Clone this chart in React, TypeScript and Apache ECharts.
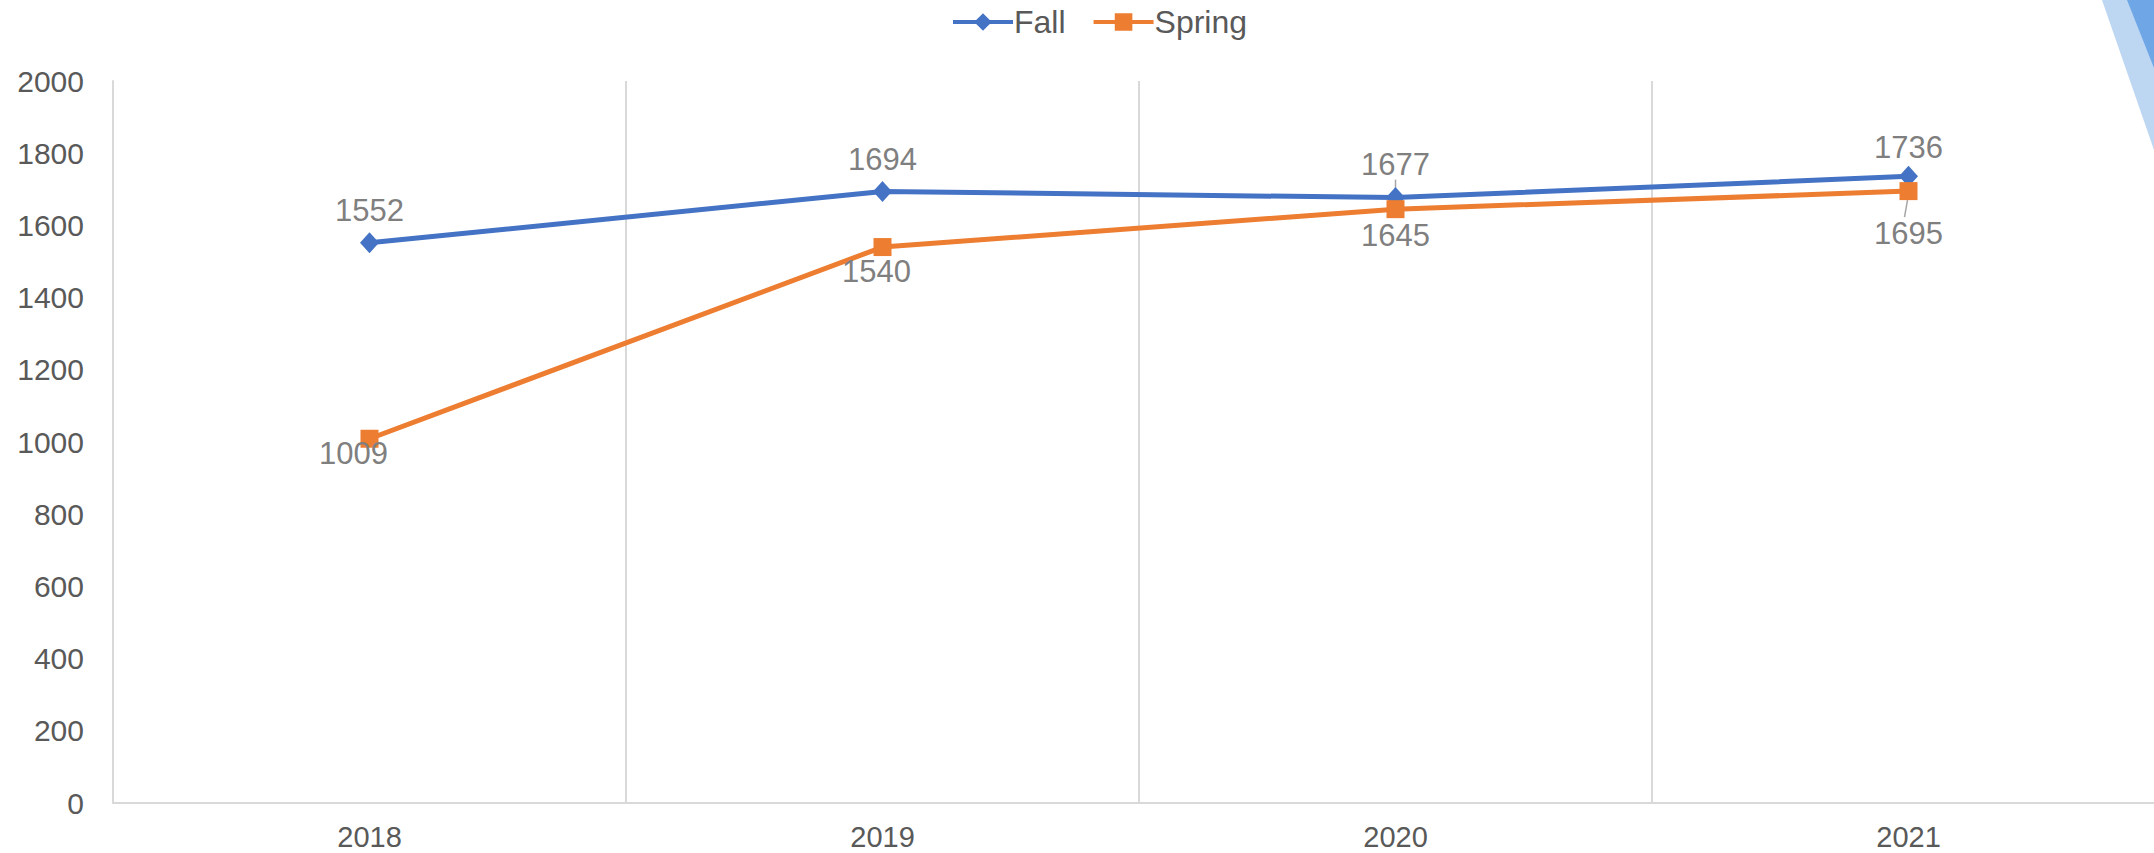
import React, { useEffect, useRef } from "react";
import * as echarts from "echarts";

const categories = ["2018", "2019", "2020", "2021"];
const fallValues = [1552, 1694, 1677, 1736];
const springValues = [1009, 1540, 1645, 1695];
const yTicks = { min: 0, max: 2000, interval: 200 };

// label placement (layout, not data)
const fallLabelLayout = [
  { dx: 0, dy: -6 },
  { dx: 0, dy: -6 },
  { dx: 0, dy: -7 },
  { dx: 0, dy: -3 },
];
const springLabelLayout = [
  { dx: -16, dy: -10 },
  { dx: -6, dy: 0 },
  { dx: 0, dy: 2 },
  { dx: 0, dy: 18 },
];

const FONT = "'Liberation Sans', Arial, Helvetica, sans-serif";

export default function App() {
  const ref = useRef<HTMLDivElement>(null);
  useEffect(() => {
    if (!ref.current) return;
    const chart = echarts.init(ref.current, undefined, { renderer: "svg" });
    const labelStyle = { color: "#7F7F7F", fontSize: 31, fontFamily: FONT };
    chart.setOption({
      animation: false,
      backgroundColor: "#FFFFFF",
      textStyle: { fontFamily: FONT },
      legend: {
        top: 1,
        left: 946,
        itemWidth: 60,
        itemHeight: 22,
        itemGap: 26,
        lineStyle: { width: 4 },
        textStyle: { fontSize: 32, color: "#595959", fontFamily: FONT, padding: [0, 0, 0, -4] },
        data: ["Fall", "Spring"],
      },
      grid: { left: 113, top: 81, bottom: 50, right: 0, containLabel: false },
      xAxis: {
        type: "category",
        data: categories,
        boundaryGap: true,
        axisLine: { show: true, lineStyle: { color: "#D9D9D9", width: 2 } },
        axisTick: { show: false },
        splitLine: { show: true, lineStyle: { color: "#D9D9D9", width: 2 } },
        axisLabel: { fontSize: 29, color: "#595959", margin: 19, fontFamily: FONT },
      },
      yAxis: {
        type: "value",
        min: yTicks.min,
        max: yTicks.max,
        interval: yTicks.interval,
        axisLine: { show: true, lineStyle: { color: "#D9D9D9", width: 2 } },
        axisTick: { show: false },
        splitLine: { show: false },
        axisLabel: {
          fontSize: 30,
          color: "#595959",
          margin: 29,
          fontFamily: FONT,
          formatter: (v: number) => String(v),
        },
      },
      series: [
        {
          name: "Fall",
          type: "line",
          symbol: "diamond",
          symbolSize: [19, 21],
          lineStyle: { color: "#4472C4", width: 5 },
          itemStyle: { color: "#4472C4" },
          data: fallValues.map((v, i) => ({
            value: v,
            label: {
              show: true,
              position: "top",
              distance: 0,
              offset: [fallLabelLayout[i].dx, fallLabelLayout[i].dy],
              ...labelStyle,
            },
          })),
        },
        {
          name: "Spring",
          type: "line",
          symbol: "rect",
          symbolSize: 18,
          lineStyle: { color: "#ED7D31", width: 5 },
          itemStyle: { color: "#ED7D31" },
          data: springValues.map((v, i) => ({
            value: v,
            label: {
              show: true,
              position: "bottom",
              distance: 0,
              offset: [springLabelLayout[i].dx, springLabelLayout[i].dy],
              ...labelStyle,
            },
          })),
        },
      ],
    });

    // leader lines for two labels + corner decoration
    const pF = chart.convertToPixel({ seriesIndex: 0 }, [2, fallValues[2]]) as number[];
    const pS = chart.convertToPixel({ seriesIndex: 1 }, [3, springValues[3]]) as number[];
    chart.setOption({
      graphic: [
        {
          type: "line",
          z: 1,
          shape: { x1: pF[0], y1: pF[1] - 18, x2: pF[0], y2: pF[1] - 8 },
          style: { stroke: "#A6A6A6", lineWidth: 1.5 },
        },
        {
          type: "line",
          z: 1,
          shape: { x1: pS[0] - 1, y1: pS[1] + 9, x2: pS[0] - 4, y2: pS[1] + 26 },
          style: { stroke: "#A6A6A6", lineWidth: 1.5 },
        },
        {
          type: "polygon",
          z: 100,
          shape: { points: [[2102, 0], [2154, 0], [2154, 150]] },
          style: { fill: "#BDD7F3" },
        },
        {
          type: "polygon",
          z: 101,
          shape: { points: [[2127, 0], [2154, 0], [2154, 68]] },
          style: { fill: "#6FA7E6" },
        },
      ],
    });
    return () => chart.dispose();
  }, []);
  return (
    <div
      style={{
        position: "fixed",
        left: 0,
        top: 0,
        width: 2154,
        height: 853,
        overflow: "hidden",
      }}
    >
      <div ref={ref} style={{ width: 2165, height: 853 }} />
    </div>
  );
}
